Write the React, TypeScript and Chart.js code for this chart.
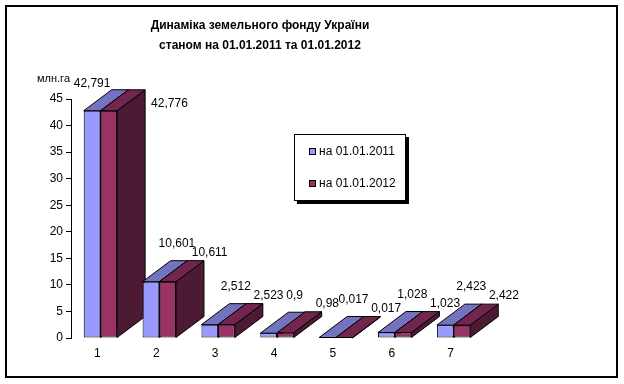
import React, { useEffect, useRef } from 'react';
import { Chart, registerables } from 'chart.js';

Chart.register(...registerables);

// ---- data ----
const categories = ['1', '2', '3', '4', '5', '6', '7'];
const values2011 = [42.791, 10.601, 2.512, 0.9, 0.017, 1.028, 2.423];
const values2012 = [42.776, 10.611, 2.523, 0.98, 0.017, 1.023, 2.422];
const seriesNames = ['на 01.01.2011', 'на 01.01.2012'];
const titleLines = ['Динаміка земельного фонду України', 'станом на 01.01.2011 та 01.01.2012'];
const unitLabel = 'млн.га';
const yMin = 0;
const yMax = 45;
const yStep = 5;

// ---- style ----
const FONT = '"Liberation Sans", Arial, sans-serif';
const frontColors = ['#9999FF', '#993366'];
const topColors = ['#7373BF', '#73264D'];
const sideColors = ['#4D4D80', '#4D1A33'];
const DX = 28;
const DY = 21;

const fmt = (v: number) => String(v).replace('.', ',');

function poly(ctx: CanvasRenderingContext2D, pts: number[][], fill: string) {
  ctx.beginPath();
  ctx.moveTo(pts[0][0], pts[0][1]);
  for (let i = 1; i < pts.length; i++) ctx.lineTo(pts[i][0], pts[i][1]);
  ctx.closePath();
  ctx.fillStyle = fill;
  ctx.fill();
  ctx.strokeStyle = '#000';
  ctx.lineWidth = 1;
  ctx.stroke();
}

const decorPlugin = {
  id: 'decor3d',
  beforeDraw(chart: any) {
    const ctx = chart.ctx as CanvasRenderingContext2D;
    ctx.save();
    ctx.fillStyle = '#fff';
    ctx.fillRect(0, 0, chart.width, chart.height);
    ctx.strokeStyle = '#000';
    ctx.lineWidth = 2;
    ctx.strokeRect(6, 6, 611, 371);
    // title
    ctx.fillStyle = '#000';
    ctx.font = 'bold 12px ' + FONT;
    ctx.textAlign = 'center';
    ctx.textBaseline = 'middle';
    ctx.fillText(titleLines[0], 260, 26);
    ctx.fillText(titleLines[1], 260, 46);
    // unit label
    ctx.font = '11px ' + FONT;
    ctx.textAlign = 'right';
    ctx.fillText(unitLabel, chart.chartArea.left - 1, chart.chartArea.top - 20);
    ctx.restore();
  },
  beforeDatasetsDraw(chart: any) {
    const ctx = chart.ctx as CanvasRenderingContext2D;
    ctx.save();
    const metas = [chart.getDatasetMeta(0), chart.getDatasetMeta(1)];
    for (let i = 0; i < categories.length; i++) {
      metas.forEach((meta: any, d: number) => {
        const el = meta.data[i];
        const p = el.getProps(['x', 'y', 'base', 'width'], true);
        const l = p.x - p.width / 2;
        const r = p.x + p.width / 2;
        const top = Math.min(p.y, p.base);
        const base = Math.max(p.y, p.base);
        poly(ctx, [[r, top], [r + DX, top - DY], [r + DX, base - DY], [r, base]], sideColors[d]);
        poly(ctx, [[l, top], [l + DX, top - DY], [r + DX, top - DY], [r, top]], topColors[d]);
      });
    }
    ctx.restore();
  },
  afterDatasetsDraw(chart: any) {
    const ctx = chart.ctx as CanvasRenderingContext2D;
    ctx.save();
    ctx.font = '12px ' + FONT;
    ctx.fillStyle = '#000';
    ctx.textAlign = 'center';
    ctx.textBaseline = 'middle';
    const minY = chart.chartArea.top - DY + 6;
    const metas = [chart.getDatasetMeta(0), chart.getDatasetMeta(1)];
    const data = [values2011, values2012];
    for (let i = 0; i < categories.length; i++) {
      metas.forEach((meta: any, d: number) => {
        const el = meta.data[i];
        const p = el.getProps(['x', 'y', 'base', 'width'], true);
        const txt = fmt(data[d][i]);
        const w = ctx.measureText(txt).width;
        let lx = p.x + (d === 0 ? 26 : 42);
        let ly = p.y - (d === 0 ? 38 : 29);
        if (ly < minY) {
          if (d === 0) {
            lx = p.x;
            ly = minY;
          } else {
            lx = p.x + p.width / 2 + DX + 6 + w / 2;
            ly = p.y - 7;
          }
        }
        ctx.fillText(txt, lx, ly);
      });
    }
    ctx.restore();
  },
  afterDraw(chart: any) {
    const ctx = chart.ctx as CanvasRenderingContext2D;
    ctx.save();
    const bx = 294, by = 134, bw = 111, bh = 66;
    ctx.fillStyle = '#000';
    ctx.fillRect(bx + 3, by + 3, bw + 1, bh + 1);
    ctx.fillStyle = '#fff';
    ctx.fillRect(bx, by, bw, bh);
    ctx.strokeStyle = '#000';
    ctx.lineWidth = 1;
    ctx.strokeRect(bx + 0.5, by + 0.5, bw, bh);
    ctx.font = '12px ' + FONT;
    ctx.textAlign = 'left';
    ctx.textBaseline = 'middle';
    seriesNames.forEach((name, k) => {
      const cy = k === 0 ? 152 : 184;
      ctx.fillStyle = frontColors[k];
      ctx.fillRect(309, cy - 3, 6, 6);
      ctx.strokeRect(309.5, cy - 3.5, 6, 6);
      ctx.fillStyle = '#000';
      ctx.fillText(name, 319, cy);
    });
    ctx.restore();
  },
};

export default function App() {
  const ref = useRef<HTMLCanvasElement | null>(null);
  useEffect(() => {
    if (!ref.current) return;
    const chart = new Chart(ref.current, {
      type: 'bar',
      data: {
        labels: categories,
        datasets: [values2011, values2012].map((vals, d) => ({
          label: seriesNames[d],
          data: vals,
          backgroundColor: frontColors[d],
          borderColor: '#000',
          borderWidth: 1,
          borderSkipped: false,
          categoryPercentage: 0.567,
          barPercentage: 1.0,
        })),
      },
      options: {
        responsive: false,
        animation: false,
        devicePixelRatio: 1,
        layout: { padding: { top: 99, right: 141, left: 0, bottom: 0 } },
        plugins: {
          legend: { display: false },
          title: { display: false },
          tooltip: { enabled: false },
        },
        scales: {
          x: {
            grid: { display: false, drawTicks: false },
            border: { display: false },
            ticks: { color: '#000', font: { family: FONT, size: 12 }, padding: 8, labelOffset: -3 },
            afterFit: (s: any) => { s.height = 46; },
          },
          y: {
            min: yMin,
            max: yMax,
            grid: { display: true, drawOnChartArea: false, drawTicks: true, tickLength: 5, color: '#000' },
            border: { display: true, color: '#000', width: 1 },
            ticks: { stepSize: yStep, color: '#000', font: { family: FONT, size: 12 }, padding: 3 },
            afterFit: (s: any) => { s.width = 71; },
          },
        },
      },
      plugins: [decorPlugin],
    });
    return () => chart.destroy();
  }, []);
  return (
    <div style={{ position: 'fixed', left: 0, top: 0, width: 624, height: 384 }}>
      <canvas ref={ref} width={624} height={384} />
    </div>
  );
}
